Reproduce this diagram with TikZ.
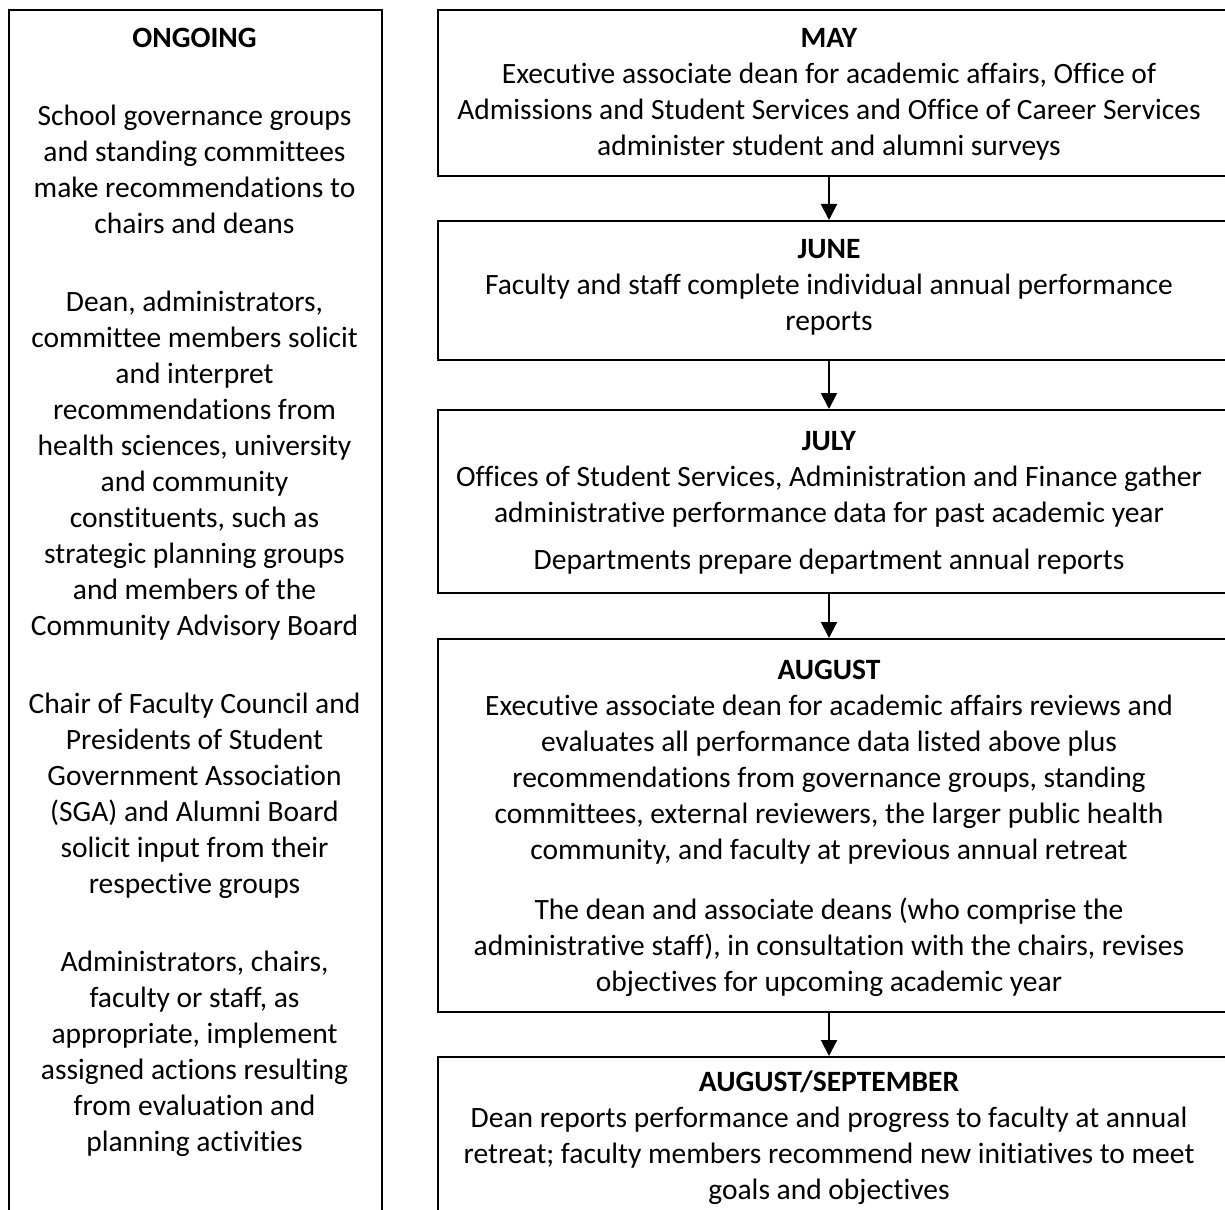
\documentclass[tikz,border=0pt]{standalone}
\usepackage{fontspec}
\setmainfont{Carlito}[Ligatures={NoCommon}]
\usetikzlibrary{arrows.meta}
\newcommand\bodyfont{\fontsize{14.75pt}{18pt}\selectfont}
\begin{document}
\begin{tikzpicture}[x=0.5pt,y=-0.5pt,
  box/.style={draw, line width=1pt, inner sep=0pt, anchor=north west, minimum width=401.5pt},
  sidebox/.style={draw, line width=1pt, inner sep=0pt, anchor=north west, minimum width=186.5pt, minimum height=615.5pt},
  txt/.style={anchor=north, inner sep=0pt, align=center, font=\bodyfont},
  arr/.style={line width=1pt, -{Triangle[length=8pt,width=8pt]}}]
\useasboundingbox (0,0) rectangle (1225,1209);

% left column
\node[sidebox] (ongoing) at (8,9) {};
\node[txt] (lt0) at (194.5,22) {\strut\textbf{ONGOING}};
\node[txt] (lt1) at (194.5,100) {\strut School governance groups\\and standing committees\\make recommendations to\\chairs and deans};
\node[txt] (lt2) at (194.5,286) {\strut Dean, administrators,\\committee members solicit\\and interpret\\recommendations from\\health sciences, university\\and community\\constituents, such as\\strategic planning groups\\and members of the\\Community Advisory Board};
\node[txt] (lt3) at (194.5,688) {\strut Chair of Faculty Council and\\Presidents of Student\\Government Association\\(SGA) and Alumni Board\\solicit input from their\\respective groups};
\node[txt] (lt4) at (194.5,946) {\strut Administrators, chairs,\\faculty or staff, as\\appropriate, implement\\assigned actions resulting\\from evaluation and\\planning activities};

% right column boxes
\coordinate (ax) at (829,0);
\node[box, minimum height=83pt] (may) at (437,9) {};
\node[box, minimum height=69.5pt] (june) at (437,220) {};
\node[box, minimum height=91.5pt] (july) at (437,409) {};
\node[box, minimum height=186.5pt] (aug) at (437,638) {};
\node[box, minimum height=92pt] (augsep) at (437,1056) {};

\node[txt] (t1) at (829,22) {\strut\textbf{MAY}\\Executive associate dean for academic affairs, Office of\\Admissions and Student Services and Office of Career Services\\administer student and alumni surveys};
\node[txt] (t2) at (829,233) {\strut\textbf{JUNE}\\Faculty and staff complete individual annual performance\\reports};
\node[txt] (t3a) at (829,425) {\strut\textbf{JULY}\\Offices of Student Services, Administration and Finance gather\\administrative performance data for past academic year};
\node[txt] (t3b) at (829,544) {\strut Departments prepare department annual reports};
\node[txt] (t4a) at (829,654) {\strut\textbf{AUGUST}\\Executive associate dean for academic affairs reviews and\\evaluates all performance data listed above plus\\recommendations from governance groups, standing\\committees, external reviewers, the larger public health\\community, and faculty at previous annual retreat};
\node[txt] (t4b) at (829,894) {\strut The dean and associate deans (who comprise the\\administrative staff), in consultation with the chairs, revises\\objectives for upcoming academic year};
\node[txt] (t5) at (829,1066) {\strut\textbf{AUGUST/SEPTEMBER}\\Dean reports performance and progress to faculty at annual\\retreat; faculty members recommend new initiatives to meet\\goals and objectives};

\draw[arr] (may.south -| ax) -- (june.north -| ax);
\draw[arr] (june.south -| ax) -- (july.north -| ax);
\draw[arr] (july.south -| ax) -- (aug.north -| ax);
\draw[arr] (aug.south -| ax) -- (augsep.north -| ax);
\end{tikzpicture}
\end{document}
